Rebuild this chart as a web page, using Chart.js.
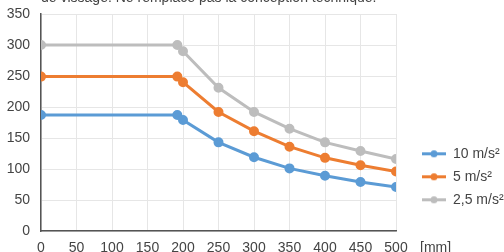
<!DOCTYPE html>
<html>
<head>
<meta charset="utf-8">
<script src="https://cdn.jsdelivr.net/npm/chart.js@4"></script>
<style>
  html, body { margin: 0; padding: 0; background: #fff; overflow: hidden; }
  #wrap { position: relative; width: 504px; height: 252px; }
  #note {
    position: absolute; left: 41px; top: -11px;
    font: 14px "Liberation Sans", Arial, sans-serif; line-height: 16px;
    color: #444; white-space: nowrap;
  }
</style>
</head>
<body>
<div id="wrap">
  <canvas id="chart" width="504" height="252"></canvas>
  <div id="note">de vissage. Ne remplace pas la conception technique.</div>
</div>
<script>
/* ---------------- DATA ---------------- */

const distances = [0, 192, 200, 250, 300, 350, 400, 450, 500];
const accel10 = [187, 187, 179, 143, 119, 101, 89, 79, 71];
const accel5 = [249, 249, 240, 192, 161, 136, 118, 106, 96];
const accel25 = [300, 300, 290, 231, 192, 165, 143, 129, 116];
const seriesNames = ["10 m/s²", "5 m/s²", "2,5 m/s²"];
const unitLabel = "[mm]";

const colors = ["#5b9bd5", "#ed7d31", "#bdbdbd"];
const font = { family: "'Liberation Sans', Arial, sans-serif", size: 14 };
const textColor = "#444";

/* legend marker: line with a dot, drawn in the right part of a wider canvas */
function marker(color) {
  const c = document.createElement("canvas");
  c.width = 41; c.height = 9;
  const g = c.getContext("2d");
  g.strokeStyle = color; g.lineWidth = 3;
  g.beginPath(); g.moveTo(17, 4.5); g.lineTo(41, 4.5); g.stroke();
  g.fillStyle = color;
  g.beginPath(); g.arc(29, 4.5, 3.5, 0, Math.PI * 2); g.fill();
  return c;
}

function series(values, i) {
  return {
    label: seriesNames[i],
    data: distances.map((x, k) => ({ x, y: values[k] })),
    borderColor: colors[i],
    backgroundColor: colors[i],
    borderWidth: 3,
    pointRadius: 3.5,
    pointHoverRadius: 3.5,
    tension: 0
  };
}

/* "[mm]" after the last x tick */
const unitPlugin = {
  id: "unit",
  afterDraw(chart) {
    const xs = chart.scales.x;
    const ctx = chart.ctx;
    ctx.save();
    ctx.font = font.size + "px " + font.family;
    ctx.fillStyle = textColor;
    ctx.textAlign = "left";
    ctx.textBaseline = "middle";
    ctx.fillText(unitLabel, xs.getPixelForValue(500) + 24, xs.top + 9 + font.size * 0.6);
    ctx.restore();
  }
};

new Chart(document.getElementById("chart"), {
  type: "line",
  data: {
    datasets: [series(accel10, 0), series(accel5, 1), series(accel25, 2)]
  },
  options: {
    responsive: false,
    animation: false,
    layout: { padding: { top: 14, right: 0, bottom: 0, left: 0 } },
    plugins: {
      tooltip: { enabled: false },
      legend: {
        position: "right",
        align: "start",
        maxWidth: 108,
        title: { display: true, text: "", padding: { top: 107, bottom: 0 }, font },
        labels: {
          usePointStyle: true,
          pointStyleWidth: 41,
          padding: 9,
          color: textColor,
          font,
          generateLabels(chart) {
            return Chart.defaults.plugins.legend.labels.generateLabels(chart)
              .map((l, i) => ({ ...l, pointStyle: marker(colors[i]) }));
          }
        }
      }
    },
    scales: {
      x: {
        type: "linear",
        min: 0, max: 500,
        afterFit: s => { s.height = 21; },
        ticks: { stepSize: 50, padding: 9, color: textColor, font, maxRotation: 0, autoSkip: false },
        grid: { color: "#e6e6e6", drawTicks: false },
        border: { color: "#555", width: 1.5 }
      },
      y: {
        min: 0, max: 350,
        afterFit: s => { s.width = 41; s.paddingTop = 0; s.paddingBottom = 0; },
        ticks: { stepSize: 50, padding: 11, color: textColor, font },
        grid: { color: "#e6e6e6", drawTicks: false },
        border: { color: "#555", width: 1.5 }
      }
    }
  },
  plugins: [unitPlugin]
});
</script>
</body>
</html>
